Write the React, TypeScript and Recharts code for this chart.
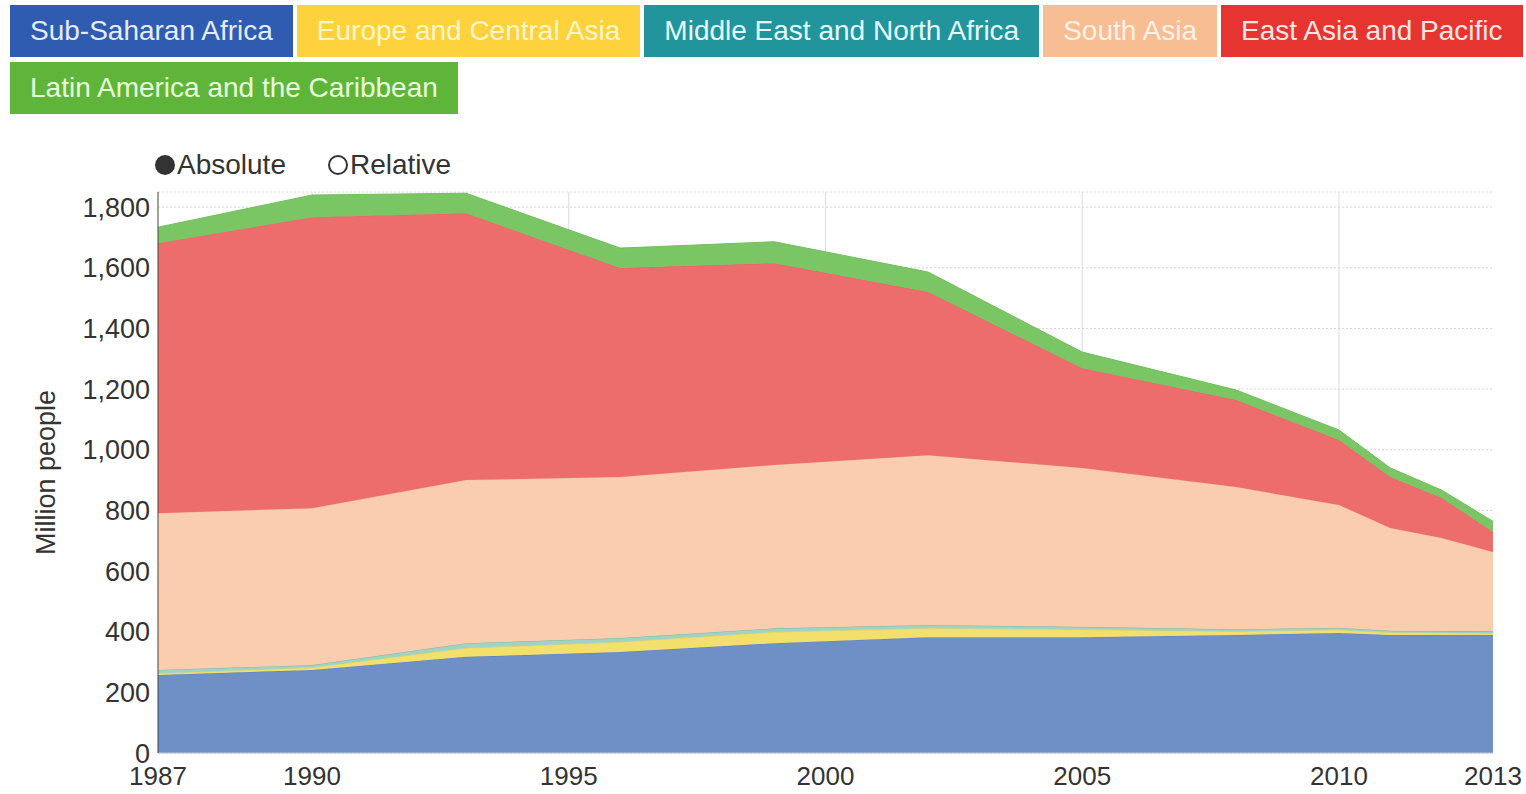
import React from 'react';
import { AreaChart, Area, XAxis, YAxis, CartesianGrid } from 'recharts';

const years = [1987, 1990, 1993, 1996, 1999, 2002, 2005, 2008, 2010, 2011, 2012, 2013];
const subSaharanAfrica = [257, 274, 317, 333, 362, 382, 382, 389, 396, 389, 389, 389];
const europeCentralAsia = [5, 8, 29, 33, 37, 29, 25, 12, 10, 8, 7, 5];
const middleEastNorthAfrica = [12, 8, 16, 13, 12, 11, 9, 7, 7, 6, 6, 8];
const southAsia = [517, 517, 538, 531, 539, 560, 524, 469, 405, 339, 307, 261];
const eastAsiaPacific = [890, 960, 880, 689, 665, 538, 329, 287, 214, 168, 132, 66];
const latinAmerica = [53, 73, 66, 66, 71, 66, 53, 33, 33, 30, 26, 35];

const xTicks = [1987, 1990, 1995, 2000, 2005, 2010, 2013];
const xGrid = [1990, 1995, 2000, 2005, 2010];
const yTicks = [0, 200, 400, 600, 800, 1000, 1200, 1400, 1600, 1800];

const regions = [
  { key: 'ssa', name: 'Sub-Saharan Africa', values: subSaharanAfrica, button: '#2f5bb0', text: '#e4ecff', fill: '#6f8fc7', stroke: '#5f80bf' },
  { key: 'eca', name: 'Europe and Central Asia', values: europeCentralAsia, button: '#fdd23c', text: '#fff6c8', fill: '#f3df6b', stroke: '#e8d25a' },
  { key: 'mena', name: 'Middle East and North Africa', values: middleEastNorthAfrica, button: '#21949c', text: '#e6fbff', fill: '#a0d3c5', stroke: '#7fb9a0' },
  { key: 'sa', name: 'South Asia', values: southAsia, button: '#f8be93', text: '#fff1e6', fill: '#f9cdae', stroke: '#f4c3a2' },
  { key: 'eap', name: 'East Asia and Pacific', values: eastAsiaPacific, button: '#e63431', text: '#ffe6e6', fill: '#ec6d6b', stroke: '#e86462' },
  { key: 'lac', name: 'Latin America and the Caribbean', values: latinAmerica, button: '#5eb53a', text: '#e8ffdc', fill: '#7ac665', stroke: '#70bf5b' },
];

const data = years.map((year, i) => {
  const row: Record<string, number> = { year };
  regions.forEach((r) => {
    row[r.key] = r.values[i];
  });
  return row;
});

const font = '"Liberation Sans", Arial, sans-serif';

const YLabel = (props: any) => {
  const { viewBox } = props;
  const cx = viewBox.x - 52;
  const cy = viewBox.y + viewBox.height / 2;
  return (
    <text
      x={cx}
      y={cy}
      transform={`rotate(-90, ${cx}, ${cy})`}
      textAnchor="middle"
      dominantBaseline="central"
      fontSize={27}
      fill="#333"
      fontFamily={font}
    >
      Million people
    </text>
  );
};

export default function App() {
  return (
    <div style={{ position: 'absolute', left: 0, top: 0, width: 1526, height: 794, overflow: 'hidden', background: '#fff', fontFamily: font }}>
      <div style={{ position: 'absolute', left: 10, top: 5, width: 1516, display: 'flex', flexWrap: 'wrap', columnGap: 4, rowGap: 5 }}>
        {regions.map((r) => (
          <div
            key={r.key}
            style={{
              background: r.button,
              color: r.text,
              height: 52,
              lineHeight: '52px',
              padding: '0 20px',
              fontSize: 28,
              whiteSpace: 'nowrap',
              boxSizing: 'border-box',
            }}
          >
            {r.name}
          </div>
        ))}
      </div>

      <div style={{ position: 'absolute', left: 155, top: 148, height: 34, display: 'flex', alignItems: 'center', fontSize: 28, color: '#333' }}>
        <span style={{ width: 20, height: 20, borderRadius: '50%', background: '#333', display: 'inline-block', marginRight: 2 }} />
        <span>Absolute</span>
        <span style={{ width: 16, height: 16, borderRadius: '50%', border: '2px solid #333', display: 'inline-block', marginLeft: 42, marginRight: 2 }} />
        <span>Relative</span>
      </div>

      <AreaChart
        width={1526}
        height={794}
        data={data}
        margin={{ top: 192, right: 33, bottom: 0, left: 98 }}
        style={{ position: 'absolute', left: 0, top: 0 }}
      >
        <CartesianGrid horizontal={false} vertical verticalValues={xGrid} stroke="#dcdcdc" />
        <CartesianGrid horizontal vertical={false} stroke="#d6d6d6" strokeDasharray="2 2" />
        <XAxis
          dataKey="year"
          type="number"
          domain={[1987, 2013]}
          ticks={xTicks}
          interval={0}
          height={41}
          tickSize={0}
          tickMargin={14}
          stroke="#b5c6dc"
          tick={{ fill: '#333', fontSize: 26, fontFamily: font }}
        />
        <YAxis
          type="number"
          domain={[0, 1850]}
          ticks={yTicks}
          interval={0}
          width={60}
          tickSize={0}
          tickMargin={8}
          stroke="#444"
          tickFormatter={(v: number) => v.toLocaleString('en-US')}
          tick={{ fill: '#333', fontSize: 27, fontFamily: font }}
          label={<YLabel />}
        />
        {regions.map((r) => (
          <Area
            key={r.key}
            type="linear"
            dataKey={r.key}
            name={r.name}
            stackId="poverty"
            fill={r.fill}
            fillOpacity={1}
            stroke={r.stroke}
            strokeWidth={1}
            isAnimationActive={false}
          />
        ))}
      </AreaChart>
    </div>
  );
}
